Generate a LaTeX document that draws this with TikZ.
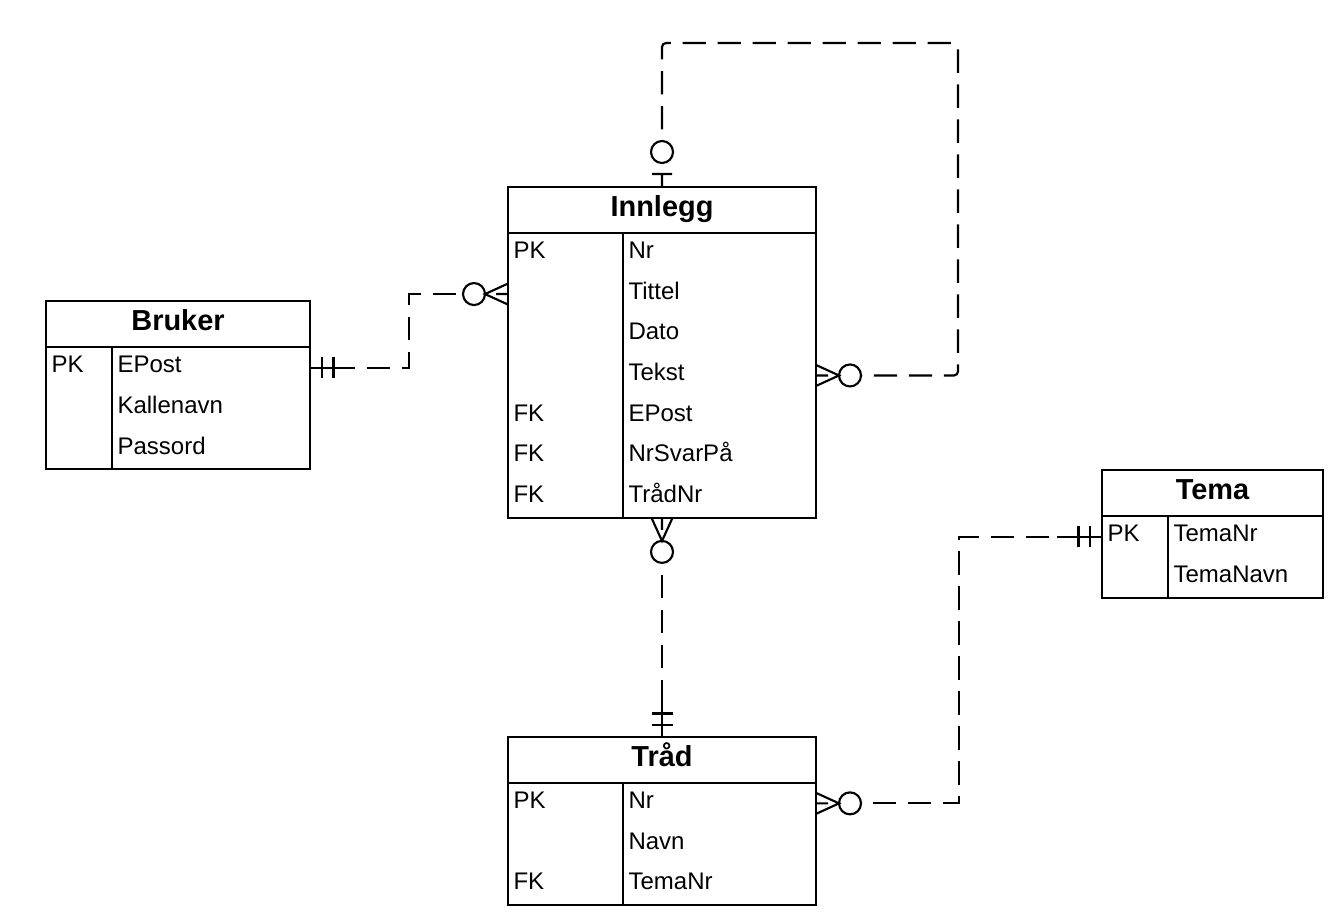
\documentclass[tikz,border=0pt]{standalone}
\usepackage{fontspec}
\setmainfont{Liberation Sans}
\usetikzlibrary{calc,positioning}
\tikzstyle{entity} = [rectangle, draw, outer sep=0pt, minimum height=34.5pt, text height=16pt, text depth=7pt, font=\fontsize{21.7}{26}\selectfont\bfseries]
\tikzstyle{attrrow} = [rectangle, outer sep=0pt, inner sep=0pt, minimum height=30.5pt]
\tikzstyle{field} = [inner sep=0pt, anchor=base west, font=\fontsize{18}{21}\selectfont]
\tikzstyle{relation} = [dash pattern=on 17.5pt off 8.75pt, dash phase=17.5pt]
\tikzset{
  oneonly/.pic = {
    \draw (0,0) -- (45,0) (12,-10.5) -- (12,10.5) (23.5,-10.5) -- (23.5,10.5);
    \coordinate (-end) at (45,0);
  },
  zeroone/.pic = {
    \draw (0,0) -- (13,0) (13,-10) -- (13,10) (35,0) circle [radius=11];
    \coordinate (-end) at (46,0);
  },
  zeromany/.pic = {
    \draw (0,-10.5) -- (23,0) -- (0,10.5) (0,0) -- (12,0) (34,0) circle [radius=11];
    \coordinate (-end) at (45,0);
  }
}
\begin{document}
\begin{tikzpicture}[x=0.75pt, y=-0.75pt, line width=1.6pt]
  \useasboundingbox (0,0) rectangle (1344,922);
  % Bruker
  \node (bruker) [entity, minimum width=198pt] at (178,324.25) {Bruker};
  \foreach \k/\a [count=\i] in {PK/EPost, /Kallenavn, /Passord} {
    \node (bruker-\i) [attrrow, minimum width=198pt] at ($(bruker.south)+(0,{(\i-0.5)*40.7})$) {};
    \node (bruker-k\i) [field] at ($(bruker-\i.west)+(4.5,5)$) {\k};
    \node (bruker-a\i) [field] at ($(bruker-\i.west)+(70.5,5)$) {\a};
  }
  \draw (bruker.south west) rectangle (bruker-3.south east);
  \draw ($(bruker.south west)+(66,0)$) -- ($(bruker-3.south west)+(66,0)$);
  % Innlegg
  \node (innlegg) [entity, minimum width=231pt] at (662,210) {Innlegg};
  \foreach \k/\a [count=\i] in {PK/Nr, /Tittel, /Dato, /Tekst, FK/EPost, FK/NrSvarPå, FK/TrådNr} {
    \node (innlegg-\i) [attrrow, minimum width=231pt] at ($(innlegg.south)+(0,{(\i-0.5)*40.7})$) {};
    \node (innlegg-k\i) [field] at ($(innlegg-\i.west)+(4.5,5)$) {\k};
    \node (innlegg-a\i) [field] at ($(innlegg-\i.west)+(119.5,5)$) {\a};
  }
  \draw (innlegg.south west) rectangle (innlegg-7.south east);
  \draw ($(innlegg.south west)+(115,0)$) -- ($(innlegg-7.south west)+(115,0)$);
  % Traad
  \node (trad) [entity, minimum width=231pt] at (662,760) {Tråd};
  \foreach \k/\a [count=\i] in {PK/Nr, /Navn, FK/TemaNr} {
    \node (trad-\i) [attrrow, minimum width=231pt] at ($(trad.south)+(0,{(\i-0.5)*40.7})$) {};
    \node (trad-k\i) [field] at ($(trad-\i.west)+(4.5,5)$) {\k};
    \node (trad-a\i) [field] at ($(trad-\i.west)+(119.5,5)$) {\a};
  }
  \draw (trad.south west) rectangle (trad-3.south east);
  \draw ($(trad.south west)+(115,0)$) -- ($(trad-3.south west)+(115,0)$);
  % Tema
  \node (tema) [entity, minimum width=165.75pt] at (1212.5,493.3) {Tema};
  \foreach \k/\a [count=\i] in {PK/TemaNr, /TemaNavn} {
    \node (tema-\i) [attrrow, minimum width=165.75pt] at ($(tema.south)+(0,{(\i-0.5)*40.7})$) {};
    \node (tema-k\i) [field] at ($(tema-\i.west)+(4.5,5)$) {\k};
    \node (tema-a\i) [field] at ($(tema-\i.west)+(70.5,5)$) {\a};
  }
  \draw (tema.south west) rectangle (tema-2.south east);
  \draw ($(tema.south west)+(66,0)$) -- ($(tema-2.south west)+(66,0)$);
  % relations
  \pic [rotate=0] (bk) at (bruker-1.east) {oneonly};
  \pic [rotate=180] (il) at (innlegg-2.west) {zeromany};
  \draw [relation] (bk-end) -| ($(bk-end)!.5!(il-end)$) |- (il-end);
  \pic [rotate=90] (it) at (innlegg.north) {zeroone};
  \pic [rotate=0] (ir) at (innlegg-4.east) {zeromany};
  \coordinate (loop) at (958,43);
  \draw [relation, rounded corners=3pt] (it-end) |- (loop) |- (ir-end);
  \pic [rotate=-90] (ib) at (innlegg-7.south) {zeromany};
  \pic [rotate=90] (tt) at (trad.north) {oneonly};
  \draw [relation] (ib-end) -- (tt-end);
  \pic [rotate=0] (tr) at (trad-1.east) {zeromany};
  \pic [rotate=180] (tm) at (tema-1.west) {oneonly};
  \draw [relation] (tr-end) -| ($(tr-end)!.5!(tm-end)$) |- (tm-end);
\end{tikzpicture}
\end{document}
